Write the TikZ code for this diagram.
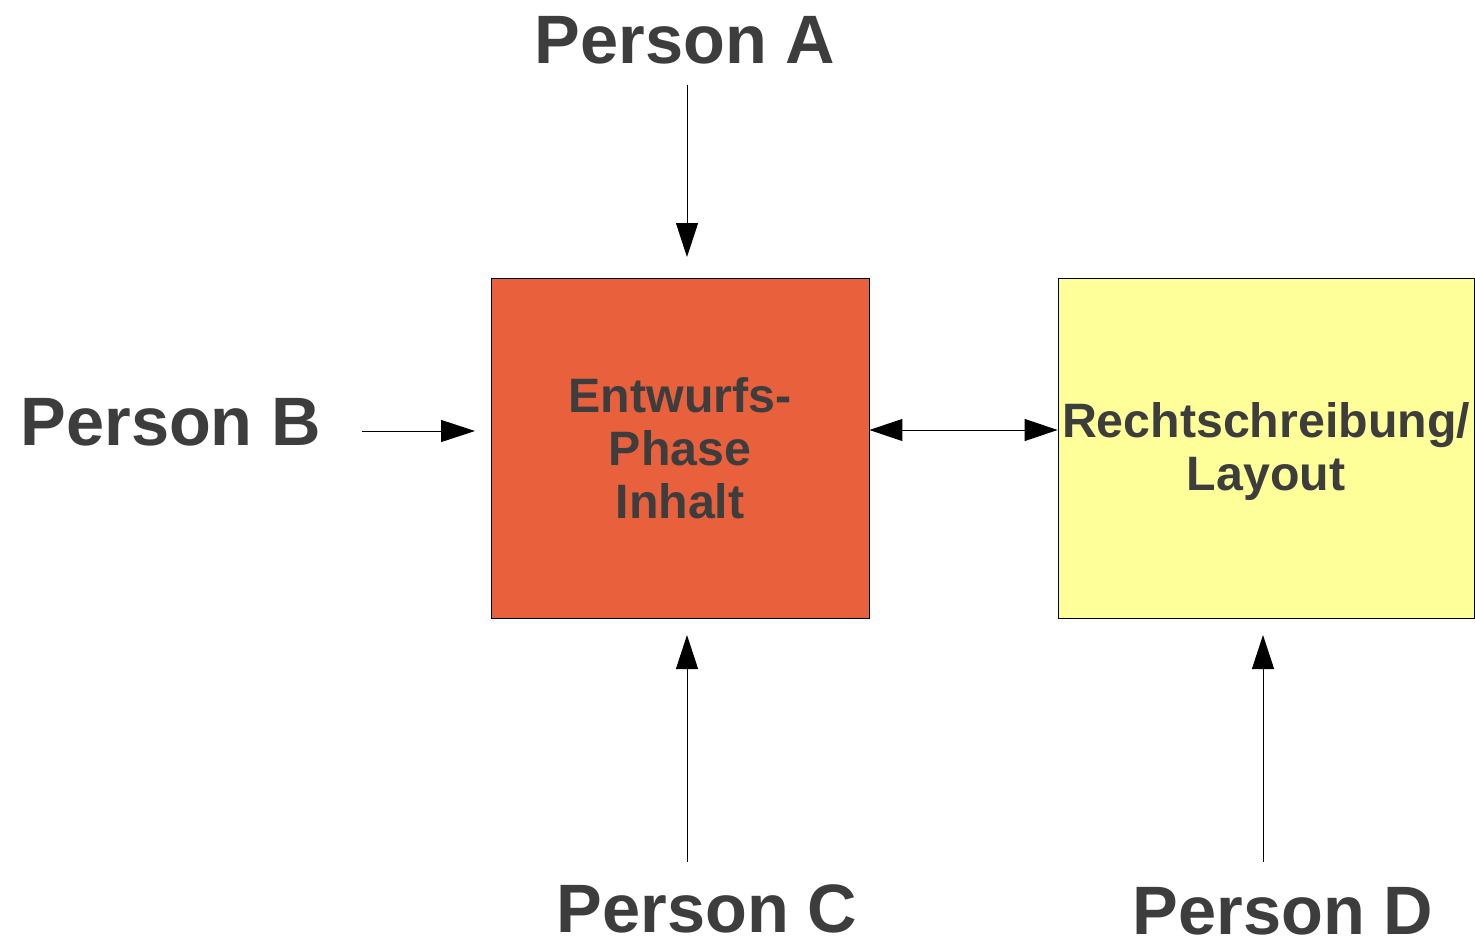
\documentclass[tikz,border=0pt]{standalone}
\usepackage{fontspec}
\setmainfont{Liberation Sans}
\usetikzlibrary{arrows.meta}
\definecolor{txt}{HTML}{3D3D3D}
\definecolor{redbox}{HTML}{E9603D}
\definecolor{yelbox}{HTML}{FFFF99}
\begin{document}
\begin{tikzpicture}[x=1pt,y=-1pt,
  person/.style={font=\fontsize{68.5}{80}\selectfont\bfseries, text=txt, inner sep=0pt, anchor=base},
  boxtext/.style={font=\fontsize{48.3}{53}\selectfont\bfseries, text=txt, align=center},
  block/.style={draw=black, line width=0.8pt, inner sep=0pt},
  arr/.style={line width=1pt, -{Triangle[length=34pt,width=22pt]}},
  darr/.style={line width=1pt, {Triangle[length=33pt,width=22pt]}-{Triangle[length=33pt,width=22pt]}}]
\useasboundingbox (0,0) rectangle (1475,939);
% boxes
\node[block, fill=redbox, minimum width=378pt, minimum height=340pt] (e) at (680,448) {};
\node[boxtext] (et) at (680,448) {Entwurfs-\\Phase\\Inhalt};
\node[block, fill=yelbox, minimum width=416pt, minimum height=340pt] (r) at (1266,448) {};
\node[boxtext] (rt) at (1266,452) {Rechtschreibung/\\Layout};
% persons
\node[person] (pA) at (685,64) {Person A};
\node[person] (pB) at (171,445) {Person B};
\node[person] (pC) at (707,932) {Person C};
\node[person] (pD) at (1283,934) {Person D};
% connector end points
\coordinate (a1) at (687,85);
\coordinate (a2) at (687,257);
\coordinate (b1) at (362,431);
\coordinate (b2) at (475,431);
\coordinate (c1) at (687,862);
\coordinate (c2) at (687,635);
\coordinate (d1) at (1263,862);
\coordinate (d2) at (1263,635);
% connectors
\draw[arr] (a1) -- (a2);
\draw[arr] (b1) -- (b2);
\draw[arr] (c1) -- (c2);
\draw[arr] (d1) -- (d2);
\draw[darr] ([yshift=18pt]e.east) -- ([yshift=18pt]r.west);
\end{tikzpicture}
\end{document}
